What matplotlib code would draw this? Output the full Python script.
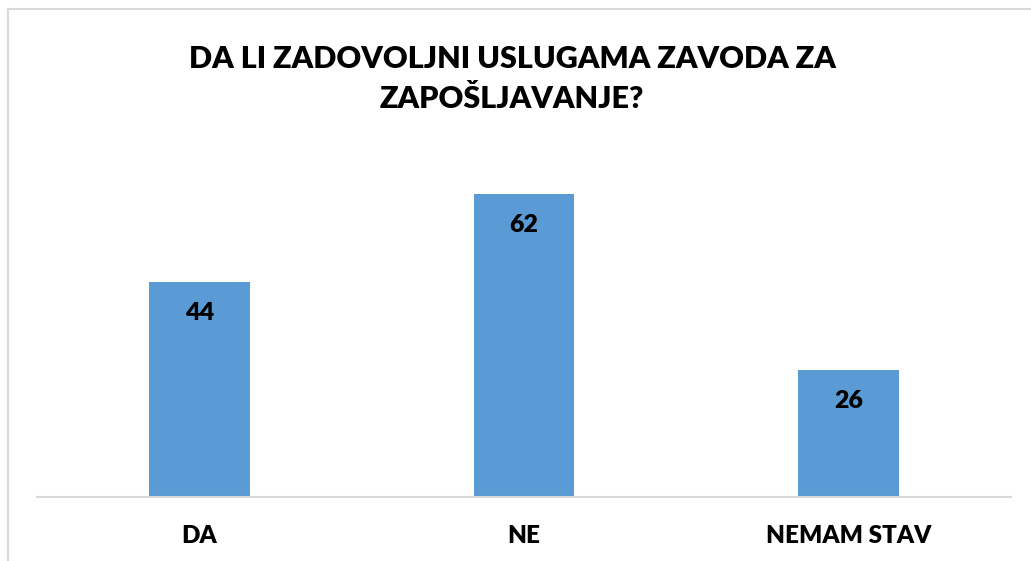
import matplotlib
matplotlib.use("Agg")
from matplotlib import pyplot as plt
from matplotlib.lines import Line2D

categories = ["DA", "NE", "NEMAM STAV"]
values = [44, 62, 26]
title = "DA LI ZADOVOLJNI USLUGAMA ZAVODA ZA\nZAPOŠLJAVANJE?"

plt.rcParams['font.family'] = ['Lato', 'DejaVu Sans']

W, H = 1031, 561
fig = plt.figure(figsize=(W/100, H/100), dpi=100)

# plot area: x 37..1011 px, baseline at y=497, ylim top at 70
ax = fig.add_axes([37/W, 1-497/H, 974/W, (497-155)/H])
x = range(len(categories))
bars = ax.bar(x, values, width=0.31, color='#5b9bd5')
ax.set_xlim(-0.5, len(categories)-0.5)
ax.set_ylim(0, 70)
for spine in ['top', 'right', 'left']:
    ax.spines[spine].set_visible(False)
ax.spines['bottom'].set_color('#d9d9d9')
ax.spines['bottom'].set_linewidth(1.5)
ax.set_yticks([])
ax.set_xticks(list(x))
ax.set_xticklabels(categories, fontsize=17.5, fontweight='heavy')
ax.tick_params(axis='x', length=0, pad=20)

for b, v in zip(bars, values):
    ax.annotate(str(v), (b.get_x()+b.get_width()/2, v), xytext=(0, -31),
                textcoords='offset pixels',
                ha='center', va='center', fontsize=18, fontweight='heavy')

fig.text(512/W, 1-79/H, title, ha='center', va='center', fontsize=22,
         fontweight='heavy', linespacing=1.55)

# chart border (top and left edges visible)
fig.add_artist(Line2D([8/W, 1], [1-9/H, 1-9/H], color='#d9d9d9', lw=1.5))
fig.add_artist(Line2D([8/W, 8/W], [0, 1-9/H], color='#d9d9d9', lw=1.5))

fig.savefig("out.png", dpi=100)
